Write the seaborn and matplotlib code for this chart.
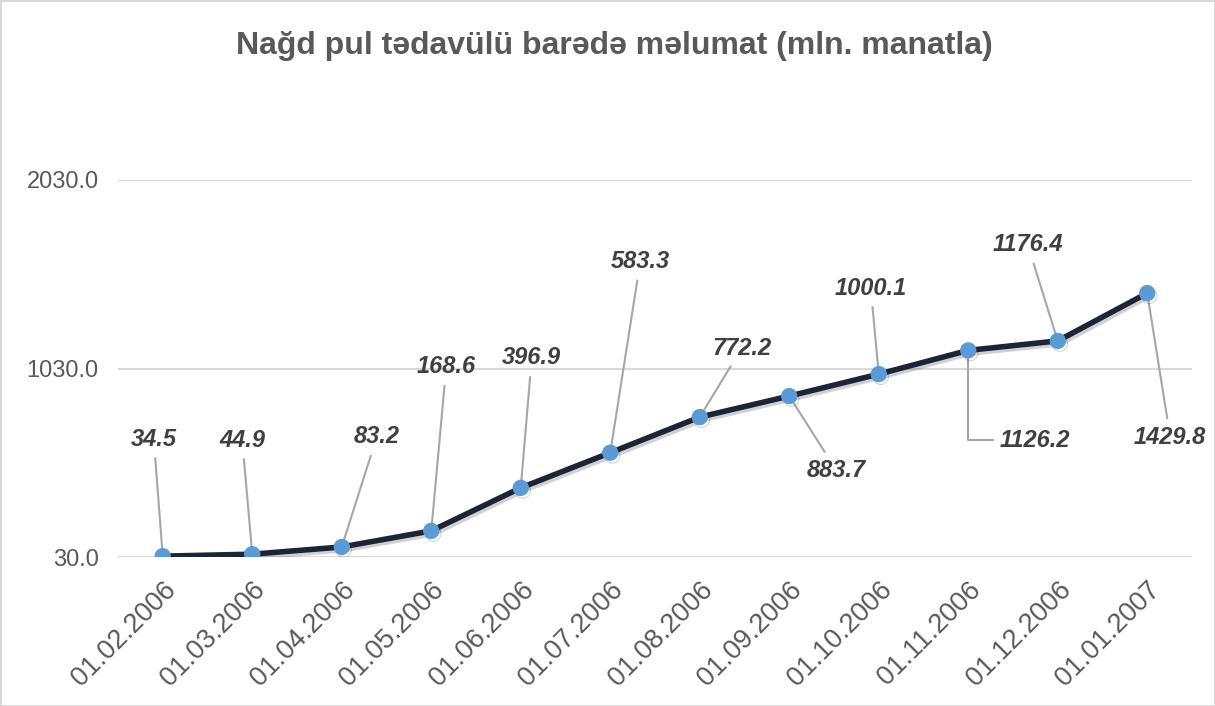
import matplotlib
matplotlib.use("Agg")
import matplotlib.pyplot as plt
import matplotlib.patheffects as pe
import seaborn as sns
import pandas as pd

dates = ["01.02.2006", "01.03.2006", "01.04.2006", "01.05.2006", "01.06.2006",
         "01.07.2006", "01.08.2006", "01.09.2006", "01.10.2006", "01.11.2006",
         "01.12.2006", "01.01.2007"]
values = [34.5, 44.9, 83.2, 168.6, 396.9, 583.3, 772.2, 883.7, 1000.1, 1126.2,
          1176.4, 1429.8]
yticks = [30.0, 1030.0, 2030.0]
title = "Nağd pul tədavülü barədə məlumat (mln. manatla)"

# label offsets in pixels (layout)
label_offsets = [(-9, 117), (-10, 114), (35, 110), (15, 164), (11, 130), (30, 191),
                 (42, 69), (47, -74), (-8, 86), (67, -90), (-30, 96), (23, -144)]

sns.set_theme(style="white")
plt.rcParams["font.family"] = ["Liberation Sans", "DejaVu Sans"]

df = pd.DataFrame({"date": dates, "value": values})
df["pos"] = range(len(dates))

fig = plt.figure(figsize=(12.15, 7.06), dpi=100)
fig.patch.set_facecolor("white")
fig.patch.set_edgecolor("#d9d9d9")
fig.patch.set_linewidth(2)

W, H = 1215, 706
ax = fig.add_axes([118 / W, 1 - 557 / H, (1192 - 118) / W, (557 - 180) / H])

sns.lineplot(data=df, x="pos", y="value", ax=ax, color="#1c2535", linewidth=4,
             marker="o", markersize=11, markerfacecolor="#5b9bd5",
             markeredgecolor="#5b9bd5", sort=False, zorder=5,
             path_effects=[pe.SimpleLineShadow(offset=(1.5, -2), alpha=0.2), pe.Normal()])

ax.set_xlim(-0.5, len(dates) - 0.5)
ax.set_ylim(yticks[0], yticks[-1])
ax.set_yticks(yticks)
ax.set_yticklabels([f"{t:.1f}" for t in yticks], fontsize=17, color="#595959")
ax.set_xticks(df["pos"])
ax.set_xticklabels(dates, rotation=45, ha="right", rotation_mode="anchor",
                   fontsize=19.5, color="#595959")
ax.tick_params(axis="x", length=0, pad=14)
ax.tick_params(axis="y", length=0, pad=14)
ax.grid(axis="y", color="#d9d9d9", linewidth=1.5)
ax.set_axisbelow(True)
for s in ax.spines.values():
    s.set_visible(False)
ax.set_xlabel("")
ax.set_ylabel("")

for i, (v, (dx, dy)) in enumerate(zip(values, label_offsets)):
    cs = "angle,angleA=0,angleB=90,rad=0" if i == 9 else "arc3"
    ax.annotate(f"{v:.1f}", xy=(i, v), xytext=(dx, dy), textcoords="offset pixels",
                ha="center", va="center", fontsize=17, fontweight="bold",
                fontstyle="italic", color="#404040", annotation_clip=False,
                arrowprops=dict(arrowstyle="-", color="#a6a6a6", lw=1.5,
                                shrinkA=3, shrinkB=0, connectionstyle=cs),
                zorder=4)

fig.text(614 / W, 1 - 46 / H, title, ha="center", va="center", fontsize=23,
         fontweight="bold", color="#595959")

fig.savefig("out.png", dpi=100, facecolor=fig.get_facecolor(),
            edgecolor=fig.get_edgecolor())
